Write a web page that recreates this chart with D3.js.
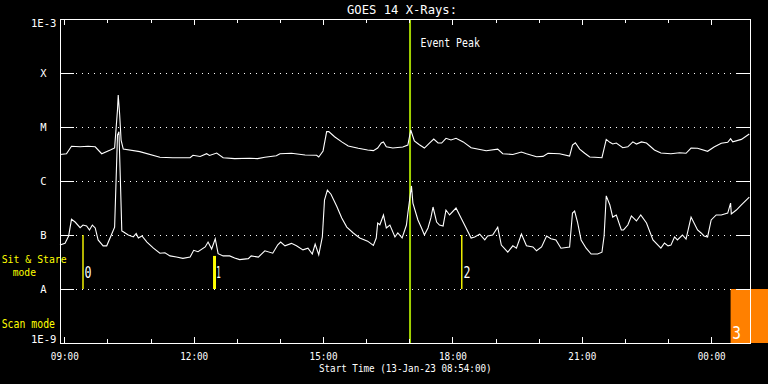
<!DOCTYPE html>
<html>
<head>
<meta charset="utf-8">
<script src="https://cdn.jsdelivr.net/npm/d3@7"></script>
<style>
    html, body { margin: 0; padding: 0; background: #000; overflow: hidden; }
    svg { display: block; }
    text { font-family: "DejaVu Sans Mono", "Liberation Mono", monospace; }
</style>
</head>
<body>
<svg id="svg"></svg>
<script>
// ---- data ----
const startTime = "08:54", endTime = "00:54";

// GOES 14 long channel (1-8 A), W/m^2
const longTimes = [
    "08:54","09:03","09:10","09:22","09:33","09:43","09:52","10:04",
    "10:10","10:14","10:15","10:17","10:19","10:22","10:45","11:13",
    "11:31","11:55","11:59","12:09","12:18","12:22","12:32","12:41",
    "12:57","13:18","13:29","13:39","13:55","14:00","14:16","14:35",
    "14:51","14:54","15:00","15:05","15:08","15:16","15:26","15:35",
    "15:49","16:02","16:10","16:16","16:21","16:24","16:28","16:37",
    "16:51","16:58","17:02","17:07","17:14","17:21","17:28","17:34",
    "17:40","17:45","17:51","17:58","18:05","18:15","18:26","18:47",
    "19:03","19:10","19:24","19:36","19:43","19:57","20:06","20:13",
    "20:29","20:43","20:47","20:51","20:57","21:04","21:11","21:18",
    "21:28","21:34","21:39","21:43","21:48","21:57","22:04","22:11",
    "22:16","22:23","22:30","22:41","22:50","23:04","23:16","23:25",
    "23:32","23:41","23:55","00:04","00:14","00:23","00:27","00:30",
    "00:42","00:53"
];
const longFlux = [
    3.1e-6,3.2e-6,4.4e-6,4.3e-6,4.4e-6,4.3e-6,3.2e-6,3.75e-6,
    4.1e-6,2.1e-5,3.9e-5,1.7e-5,5.7e-6,3.9e-6,3.5e-6,2.75e-6,
    2.7e-6,2.7e-6,3.0e-6,2.84e-6,3.2e-6,2.97e-6,3.3e-6,2.7e-6,
    2.6e-6,2.63e-6,2.6e-6,2.75e-6,2.94e-6,3.2e-6,3.26e-6,3.03e-6,
    3.0e-6,2.78e-6,3.6e-6,8.2e-6,8.2e-6,6.6e-6,5.3e-6,4.45e-6,
    4.03e-6,3.75e-6,3.65e-6,4.08e-6,5.05e-6,5.3e-6,4.3e-6,4.08e-6,
    4.26e-6,4.64e-6,8.8e-6,5.5e-6,4.7e-6,4.08e-6,5.05e-6,6.0e-6,
    5.05e-6,5.05e-6,6.18e-6,5.74e-6,6.18e-6,5.3e-6,4.14e-6,3.64e-6,
    3.9e-6,3.2e-6,3.1e-6,3.44e-6,3.2e-6,2.82e-6,2.86e-6,3.26e-6,
    3.2e-6,2.9e-6,4.64e-6,5.1e-6,3.9e-6,3.26e-6,2.78e-6,2.75e-6,
    2.7e-6,5.9e-6,5.2e-6,4.84e-6,5.05e-6,4.14e-6,4.3e-6,5.3e-6,
    4.84e-6,5.3e-6,5.05e-6,3.75e-6,3.3e-6,3.2e-6,3.34e-6,3.26e-6,
    4.08e-6,4.03e-6,3.55e-6,4.26e-6,4.99e-6,5.2e-6,6.07e-6,5.3e-6,
    5.9e-6,7.4e-6
];

// GOES 14 short channel (0.5-4 A), W/m^2
const shortTimes = [
    "08:54","09:01","09:06","09:10","09:15","09:22","09:26","09:31",
    "09:35","09:39","09:43","09:47","09:54","09:59","10:06","10:10",
    "10:14","10:16","10:18","10:20","10:22","10:29","10:36","10:40",
    "10:43","10:48","10:55","11:04","11:13","11:20","11:27","11:36",
    "11:45","11:55","12:00","12:06","12:16","12:20","12:25","12:30",
    "12:34","12:41","12:50","12:57","13:04","13:16","13:20","13:30",
    "13:39","13:50","13:57","14:01","14:07","14:16","14:23","14:32",
    "14:39","14:45","14:49","14:54","14:59","15:02","15:06","15:11",
    "15:19","15:26","15:33","15:42","15:51","16:02","16:10","16:14",
    "16:16","16:19","16:22","16:24","16:28","16:33","16:40","16:44",
    "16:50","16:56","16:58","17:03","17:05","17:12","17:17","17:21",
    "17:26","17:30","17:33","17:38","17:42","17:47","17:51","17:56",
    "18:05","18:12","18:19","18:26","18:31","18:38","18:45","18:49",
    "18:56","19:03","19:08","19:17","19:24","19:29","19:36","19:43",
    "19:52","19:57","20:04","20:11","20:17","20:24","20:31","20:43",
    "20:47","20:50","20:54","20:59","21:06","21:13","21:22","21:28",
    "21:31","21:34","21:39","21:43","21:48","21:55","21:58","22:04",
    "22:09","22:16","22:22","22:30","22:39","22:50","22:55","23:00",
    "23:04","23:09","23:13","23:20","23:25","23:32","23:41","23:46",
    "23:50","23:55","00:00","00:07","00:14","00:23","00:27","00:28",
    "00:35","00:42","00:53"
];
const shortFlux = [
    6.5e-8,7.0e-8,9.6e-8,1.95e-7,1.74e-7,1.37e-7,1.53e-7,1.47e-7,
    1.24e-7,1.53e-7,1.35e-7,8.1e-8,6.3e-8,6.3e-8,1.04e-7,1.4e-7,
    7.1e-6,8.2e-6,1.04e-6,1.19e-7,1.15e-7,1.0e-7,9.2e-8,1.07e-7,
    8.8e-8,9.6e-8,7.4e-8,5.7e-8,4.6e-8,4.7e-8,4.1e-8,3.9e-8,
    3.7e-8,3.9e-8,5.2e-8,4.9e-8,6.0e-8,7.4e-8,5.5e-8,8.5e-8,
    4.5e-8,4.1e-8,4.1e-8,3.75e-8,3.5e-8,3.65e-8,4.1e-8,3.9e-8,
    5.1e-8,4.6e-8,6.6e-8,7.4e-8,6.3e-8,7.0e-8,6.3e-8,5.3e-8,
    5.7e-8,4.45e-8,6.8e-8,4.3e-8,9.2e-8,4.45e-7,6.8e-7,5.7e-7,
    3.4e-7,2.07e-7,1.4e-7,1.09e-7,8.8e-8,7.7e-8,6.4e-8,8.8e-8,
    1.67e-7,1.55e-7,1.98e-7,2.35e-7,1.35e-7,1.53e-7,9.2e-8,1.09e-7,
    8.8e-8,1.53e-7,2.55e-7,8.1e-7,3.9e-7,1.9e-7,1.35e-7,1.0e-7,
    1.35e-7,2.07e-7,3.3e-7,1.74e-7,1.53e-7,1.47e-7,2.9e-7,2.35e-7,
    3.16e-7,2.07e-7,1.35e-7,8.8e-8,9.2e-8,1.04e-7,8.1e-8,9.6e-8,
    1.0e-7,1.4e-7,6.5e-8,4.8e-8,6.3e-8,5.7e-8,1.04e-7,6.3e-8,
    6.0e-8,5.1e-8,6.0e-8,9.6e-8,8.5e-8,8.1e-8,5.7e-8,6.0e-8,
    2.55e-7,2.78e-7,1.74e-7,8.1e-8,5.7e-8,4.45e-8,4.45e-8,4.8e-8,
    9.6e-8,5.3e-7,3.6e-7,2.15e-7,2.35e-7,1.24e-7,1.24e-7,1.53e-7,
    2.25e-7,1.82e-7,2.35e-7,1.67e-7,8.1e-8,5.7e-8,7.1e-8,6.3e-8,
    6.5e-8,9.2e-8,8.1e-8,1.0e-7,8.4e-8,2.15e-7,1.24e-7,1.09e-7,
    9.6e-8,9.2e-8,1.9e-7,2.35e-7,2.35e-7,2.55e-7,3.9e-7,2.45e-7,
    2.9e-7,3.6e-7,5.05e-7
];

// y axis
const yTickValues = [1e-9, 1e-8, 1e-7, 1e-6, 1e-5, 1e-4, 1e-3];
const yTickLabels = ["1E-9", "A", "B", "C", "M", "X", "1E-3"];

// observation markers (sit & stare)
const markerTimes = ["09:26", "12:29", "18:13"];
const markerTops = [1e-7, 4.1e-8, 1e-7];
const markerBottom = 1e-8;
const markerLabels = ["0", "1", "2"];

// scan mode block
const scanStart = "00:27", scanEnd = "01:20", scanLabel = "3";
const scanTop = 1e-8, scanBottom = 1e-9;

const eventPeakTime = "17:01";

// ---- helpers ----
function toDate(s) {
    let [h, m] = s.split(':').map(Number);
    let d = new Date(2023, 0, 13, h, m);
    if (h < 8) d.setDate(d.getDate() + 1);   // after midnight
    return d;
}

function addText(parent, str, px, py, size, len, anchor, color) {
    return parent.append('text')
        .attr('x', px)
        .attr('y', py)
        .attr('font-size', size)
        .attr('text-anchor', anchor || 'start')
        .attr('textLength', len)
        .attr('lengthAdjust', 'spacingAndGlyphs')
        .style('fill', color || '#fff')
        .text(str);
}

const width = 768, height = 384;
const plotLeft = 60, plotRight = 750, plotTop = 19, plotBottom = 343;

const svg = d3.select('#svg')
    .attr('width', width)
    .attr('height', height);

svg.append('rect').attr('width', width).attr('height', height).attr('fill', '#000');

const x = d3.scaleTime()
    .domain([toDate(startTime), toDate(endTime)])
    .range([plotLeft, plotRight]);

const y = d3.scaleLog()
    .domain([1e-9, 1e-3])
    .range([plotBottom, plotTop]);

// scan mode block (drawn first so the frame sits on top)
svg.append('rect')
    .attr('x', x(toDate(scanStart)))
    .attr('y', y(scanTop))
    .attr('width', x(toDate(scanEnd)) - x(toDate(scanStart)))
    .attr('height', y(scanBottom) - y(scanTop))
    .attr('fill', '#ff8000');

// dotted grid at each flare class
svg.append('g')
    .selectAll('line')
    .data(yTickValues.slice(1, -1))
    .enter().append('line')
    .attr('x1', plotLeft + 16).attr('x2', plotRight - 14)
    .attr('y1', d => y(d) + 0.5).attr('y2', d => y(d) + 0.5)
    .attr('stroke', '#fff')
    .attr('stroke-dasharray', '1,5')
    .attr('shape-rendering', 'crispEdges');

// event peak line
svg.append('line')
    .attr('x1', x(toDate(eventPeakTime))).attr('x2', x(toDate(eventPeakTime)))
    .attr('y1', plotTop).attr('y2', plotBottom)
    .attr('stroke', '#a0d000')
    .attr('stroke-width', 2);

// markers
svg.append('g')
    .selectAll('line')
    .data(markerTimes)
    .enter().append('line')
    .attr('x1', d => x(toDate(d))).attr('x2', d => x(toDate(d)))
    .attr('y1', (d, i) => y(markerTops[i]))
    .attr('y2', y(markerBottom))
    .attr('stroke', '#ffff00')
    .attr('stroke-width', (d, i) => i === 1 ? 3 : 1.4);

// curves
const line = d3.line()
    .x(d => x(d[0]))
    .y(d => y(d[1]));

[[longTimes, longFlux], [shortTimes, shortFlux]].forEach(function (s) {
    let pts = s[0].map((t, i) => [toDate(t), s[1][i]]);
    svg.append('path')
        .datum(pts)
        .attr('d', line)
        .attr('fill', 'none')
        .attr('stroke', '#fff')
        .attr('stroke-width', 1.1);
});

// frame
svg.append('rect')
    .attr('x', plotLeft + 0.5).attr('y', plotTop + 0.5)
    .attr('width', plotRight - plotLeft).attr('height', plotBottom - plotTop)
    .attr('fill', 'none')
    .attr('stroke', '#fff')
    .attr('shape-rendering', 'crispEdges');

// time ticks, top and bottom
const majorTicks = d3.timeHour.every(3).range(x.domain()[0], x.domain()[1]);
const minorTicks = d3.timeHour.every(1).range(x.domain()[0], x.domain()[1]);

function styleAxis(g) {
    g.attr('color', '#fff').attr('shape-rendering', 'crispEdges');
    g.select('.domain').remove();
}

svg.append('g').attr('transform', `translate(0,${plotBottom})`)
    .call(d3.axisBottom(x).tickValues(minorTicks).tickSize(-4).tickFormat(''))
    .call(styleAxis);
svg.append('g').attr('transform', `translate(0,${plotTop})`)
    .call(d3.axisTop(x).tickValues(minorTicks).tickSize(-4).tickFormat(''))
    .call(styleAxis);
svg.append('g').attr('transform', `translate(0,${plotTop})`)
    .call(d3.axisTop(x).tickValues(majorTicks).tickSize(-6).tickFormat(''))
    .call(styleAxis);

const xAxis = svg.append('g').attr('transform', `translate(0,${plotBottom})`)
    .call(d3.axisBottom(x).tickValues(majorTicks).tickSize(-6)
        .tickPadding(9).tickFormat(d3.timeFormat('%H:%M')))
    .call(styleAxis);
xAxis.selectAll('text')
    .attr('font-size', 11)
    .attr('font-family', '"DejaVu Sans Mono", monospace')
    .attr('textLength', 28)
    .attr('lengthAdjust', 'spacingAndGlyphs');

// flux ticks, left and right
svg.append('g').attr('transform', `translate(${plotLeft},0)`)
    .call(d3.axisLeft(y).tickValues(yTickValues).tickSize(-14).tickFormat(''))
    .call(styleAxis);
svg.append('g').attr('transform', `translate(${plotRight},0)`)
    .call(d3.axisRight(y).tickValues(yTickValues).tickSize(-14).tickFormat(''))
    .call(styleAxis);

// flux labels
yTickLabels.forEach(function (lab, i) {
    let v = yTickValues[i];
    if (lab.length > 1) {
        let base = i === 0 ? y(v) : y(v) + 8;
        addText(svg, lab, 56.5, base, 11, 25.5, 'end');
    } else {
        addText(svg, lab, 43.5, y(v) + 4, 11, 6.3, 'middle');
    }
});

// titles
addText(svg, 'GOES 14 X-Rays:', 402, 13.5, 12, 110, 'middle');
addText(svg, 'Start Time (13-Jan-23 08:54:00)', 405.3, 371.5, 11, 172.7, 'middle');
addText(svg, 'Event Peak', x(toDate(eventPeakTime)) + 10.5, 47.3, 12, 59.3);

// mode labels
addText(svg, 'Sit & Stare', 1.7, 262.8, 10.5, 65, 'start', '#ffff00');
addText(svg, 'mode', 12.7, 275.8, 10.5, 23.3, 'start', '#ffff00');
addText(svg, 'Scan mode', 1.7, 328.3, 11.5, 53.3, 'start', '#ffff00');

// marker numbers
markerLabels.forEach(function (lab, i) {
    addText(svg, lab, x(toDate(markerTimes[i])) + 1.6, y(markerBottom) - 11, 16, lab === '1' ? 4.5 : 7);
});
addText(svg, scanLabel, x(toDate(scanStart)) + 1.6, y(scanBottom) - 4, 18, 8.7);
</script>
</body>
</html>
